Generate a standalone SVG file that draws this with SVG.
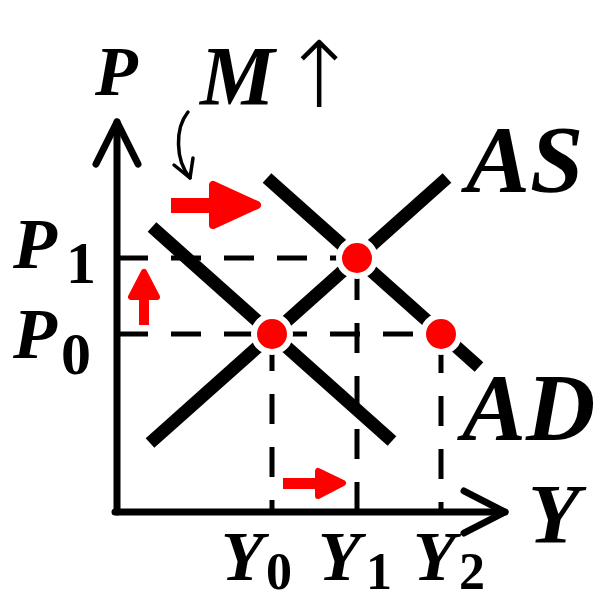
<svg xmlns="http://www.w3.org/2000/svg" width="598" height="603" viewBox="0 0 598 603">
<style>
.lbl{font-family:"Liberation Serif","Times New Roman",serif;font-weight:bold;font-style:italic;fill:#000}
.sub{font-family:"Liberation Serif","Times New Roman",serif;font-weight:bold;fill:#000}
.axis{stroke:#000;stroke-width:7;fill:none;stroke-linecap:round;stroke-linejoin:round}
.curve{stroke:#000;stroke-width:13;fill:none}
.dash{stroke:#000;stroke-width:5;fill:none;stroke-dasharray:30 23}
.dot{fill:#ff0000;stroke:#fff;stroke-width:6}
.redshaft{fill:#ff0000}
.redhead{fill:#ff0000;stroke:#ff0000;stroke-linejoin:round}
.thin{stroke:#000;stroke-width:3.5;fill:none;stroke-linecap:round;stroke-linejoin:round}
</style>
<rect width="598" height="603" fill="#fff"/>
<g id="axes">
<polyline class="axis" points="117,512 117,122"/>
<polyline class="axis" points="96,164 117,122 138,164"/>
<polyline class="axis" points="115,512 505,512"/>
<polyline class="axis" points="464,491 505,512 464,533"/>
</g>
<g id="connectors">
<line class="dash" x1="118" y1="258" x2="357" y2="258"/>
<line class="dash" x1="118" y1="334" x2="441" y2="334"/>
<line class="dash" x1="272" y1="334" x2="272" y2="512" stroke-dashoffset="46"/>
<line class="dash" x1="357" y1="258" x2="357" y2="512" stroke-dashoffset="41"/>
<line class="dash" x1="441" y1="334" x2="441" y2="512" stroke-dashoffset="44"/>
<path class="thin" d="M188,112 C175,128 175,160 190,178"/>
<polyline class="thin" points="174,165 190,178 193,158"/>
</g>
<g id="curve-AS"><line class="curve" x1="150" y1="443" x2="447" y2="178"/></g>
<g id="curve-AD0"><line class="curve" x1="152" y1="227" x2="392" y2="441"/></g>
<g id="curve-AD1"><line class="curve" x1="267" y1="178" x2="479" y2="367"/></g>
<g id="point-E0"><circle class="dot" cx="272" cy="334" r="18"/></g>
<g id="point-E1"><circle class="dot" cx="357" cy="258" r="18"/></g>
<g id="point-E2"><circle class="dot" cx="441" cy="334" r="18"/></g>
<g id="arrow-AD-shift">
<rect class="redshaft" x="171" y="198" width="46" height="15"/>
<polygon class="redhead" stroke-width="8" points="257,205 213,185 213,225"/>
</g>
<g id="arrow-P-up">
<rect class="redshaft" x="139" y="294" width="10" height="31"/>
<polygon class="redhead" stroke-width="6" points="144,272 131,297 157,297"/>
</g>
<g id="arrow-Y-right">
<rect class="redshaft" x="283" y="478" width="36" height="11"/>
<polygon class="redhead" stroke-width="6" points="343,483 318,471 318,496"/>
</g>
<g id="labels">
<text class="lbl" x="95" y="95" font-size="70">P</text>
<text class="lbl" x="200" y="105" font-size="84">M</text>
<text x="319" y="107" font-size="92" text-anchor="middle" font-family="'DejaVu Sans',sans-serif" font-weight="200" fill="#000">↑</text>
<text class="lbl" x="466" y="192" font-size="96">AS</text>
<text class="lbl" x="462" y="440" font-size="96">AD</text>
<text class="lbl" x="528" y="543" font-size="85">Y</text>
<text class="lbl" x="13" y="268" font-size="72">P</text>
<text class="sub" x="66" y="283" font-size="60">1</text>
<text class="lbl" x="13" y="358" font-size="72">P</text>
<text class="sub" x="61" y="374" font-size="60">0</text>
<text class="lbl" x="221" y="580" font-size="70">Y</text>
<text class="sub" x="266" y="589" font-size="52">0</text>
<text class="lbl" x="318" y="580" font-size="70">Y</text>
<text class="sub" x="366" y="589" font-size="52">1</text>
<text class="lbl" x="413" y="580" font-size="70">Y</text>
<text class="sub" x="459" y="589" font-size="52">2</text>
</g>
</svg>
